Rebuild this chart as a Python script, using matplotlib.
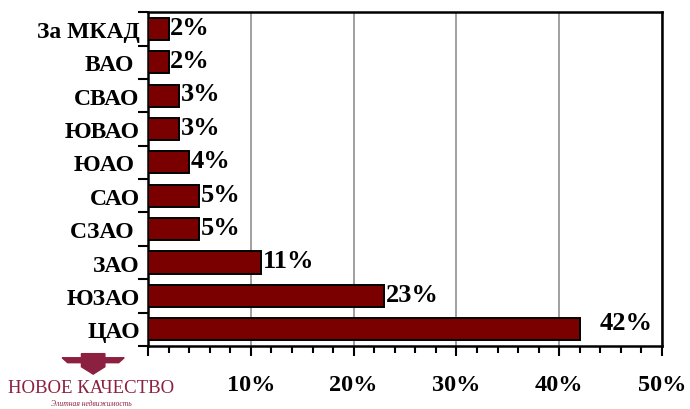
import matplotlib.pyplot as plt
from matplotlib.ticker import MultipleLocator, FixedLocator
from matplotlib.patches import Polygon

# data (top to bottom as in the chart)
districts = ['За МКАД', 'ВАО ', 'СВАО', 'ЮВАО', 'ЮАО ', 'САО', 'СЗАО ', 'ЗАО', 'ЮЗАО', 'ЦАО']
shares = [2, 2, 3, 3, 4, 5, 5, 11, 23, 42]
x_ticks = [10, 20, 30, 40, 50]
x_tick_labels = ['10%', '20%', '30%', '40%', '50%']

serif = ['Liberation Serif', 'DejaVu Serif']
bar_color = '#7a0000'

fig = plt.figure(figsize=(6.9, 4.1), dpi=100)
ax = fig.add_axes([0.2145, 0.1537, 0.745, 0.8143])

ypos = list(range(len(districts)))
ax.barh(ypos, shares, height=0.66, color=bar_color, edgecolor='black', linewidth=1.4, zorder=3)
ax.set_ylim(len(districts) - 0.5, -0.5)
ax.set_xlim(0, 50)

# data labels
for y, v in zip(ypos, shares):
    if v == max(shares):
        ax.text(v + 1.9, y - 0.2, f'{v}%', va='center', ha='left', fontsize=19,
                family=serif, fontweight='bold', zorder=4)
    else:
        ax.text(v + 0.15, y - 0.05, f'{v}%', va='center', ha='left', fontsize=19,
                family=serif, fontweight='bold', zorder=4)

# axes styling
ax.xaxis.set_major_locator(FixedLocator([0] + x_ticks))
ax.set_xticklabels([''] + x_tick_labels)
ax.xaxis.set_minor_locator(MultipleLocator(2))
ax.tick_params(axis='x', which='major', direction='out', length=7, width=1.5, pad=13)
ax.tick_params(axis='x', which='minor', direction='out', length=5, width=1.5)
for lab in ax.get_xticklabels():
    lab.set_family(serif)
    lab.set_fontweight('bold')
    lab.set_fontsize(17.5)

ax.grid(axis='x', which='major', color='#999999', linewidth=1.3, zorder=0)

ax.yaxis.set_major_locator(FixedLocator(ypos))
ax.set_yticklabels(districts)
ax.yaxis.set_minor_locator(FixedLocator([p - 0.5 for p in ypos] + [len(ypos) - 0.5]))
ax.tick_params(axis='y', which='major', length=0, pad=6)
ax.tick_params(axis='y', which='minor', direction='out', length=7, width=1.5)
for lab in ax.get_yticklabels():
    lab.set_family(serif)
    lab.set_fontweight('bold')
    lab.set_fontsize(17)

for s in ax.spines.values():
    s.set_linewidth(1.8)
    s.set_color('black')

# logo
logo_color = '#8c2040'
fig.text(0.132, 0.052, 'НОВОЕ КАЧЕСТВО', ha='center', va='center', fontsize=13.5,
         family=serif, color=logo_color)
fig.text(0.132, 0.004, 'Элитная недвижимость', ha='center', va='bottom', fontsize=5.5,
         family=serif, style='italic', color=logo_color)
shield = Polygon([[0.118, 0.135], [0.152, 0.135], [0.152, 0.103], [0.135, 0.085], [0.118, 0.103]],
                 closed=True, transform=fig.transFigure, color=logo_color)
wings = Polygon([[0.09, 0.125], [0.18, 0.125], [0.172, 0.113], [0.098, 0.113]],
                closed=True, transform=fig.transFigure, color=logo_color)
fig.patches.extend([wings, shield])

fig.savefig('out.png', dpi=100)
